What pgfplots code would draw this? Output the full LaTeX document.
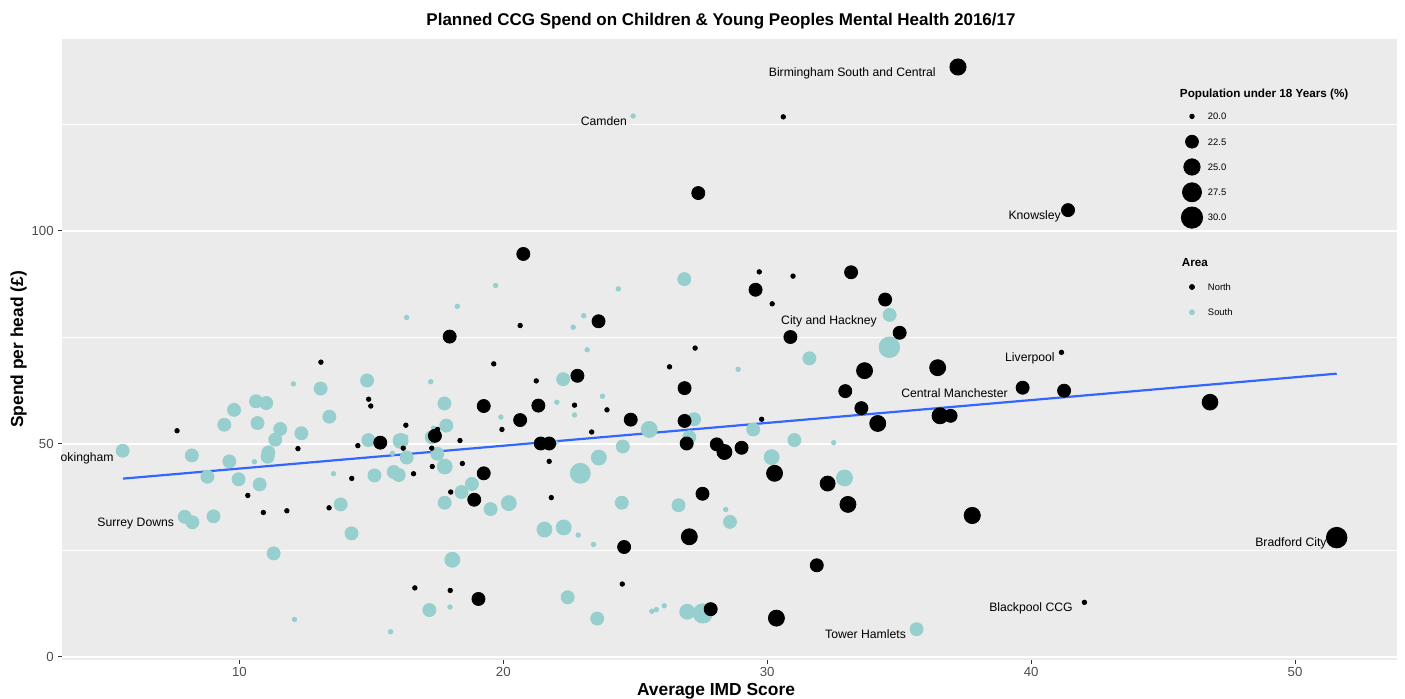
\documentclass[border=0pt]{standalone}
\usepackage{fontspec}
\setmainfont{Liberation Sans}
\usepackage{pgfplots}
\usepackage{pgfplotstable}
\pgfplotsset{compat=1.18}
\definecolor{panelbg}{HTML}{EBEBEB}
\definecolor{southc}{HTML}{96CFCD}
\definecolor{smoothc}{HTML}{3366FF}
\definecolor{ticklab}{HTML}{4D4D4D}
\definecolor{tickc}{HTML}{333333}

\pgfplotstableread{
x y pop
13.09 69.2 20.0
7.64 53.1 20.0
12.22 48.9 20.0
10.32 37.9 20.0
10.91 33.9 20.0
11.80 34.3 20.0
13.40 35.0 20.0
20.64 77.8 20.0
17.97 75.2 22.6
19.64 68.8 20.0
21.25 64.8 20.0
22.81 66.0 22.6
14.90 60.5 20.0
14.98 58.9 20.0
19.26 58.9 22.6
21.33 59.0 22.6
22.70 59.1 20.0
20.64 55.6 22.6
16.31 54.4 20.0
19.95 53.4 20.0
14.49 49.6 20.0
15.34 50.3 22.6
16.21 49.0 20.0
17.41 51.9 22.6
17.51 53.4 20.0
17.29 49.0 20.0
18.36 50.8 20.0
17.31 44.7 20.0
18.45 45.4 20.0
16.60 43.0 20.0
14.26 41.9 20.0
19.26 43.1 22.6
21.42 50.1 22.6
21.74 50.1 22.6
21.74 45.9 20.0
18.01 38.7 20.0
18.90 36.9 22.6
21.82 37.4 20.0
16.65 16.2 20.0
17.99 15.6 20.0
19.06 13.6 22.6
37.23 138.5 24.9
30.61 126.8 20.0
27.39 108.9 22.6
20.76 94.6 22.6
29.70 90.4 20.0
30.98 89.4 20.0
33.18 90.3 22.6
41.40 104.9 22.6
29.56 86.2 22.6
30.19 82.9 20.0
23.61 78.8 22.6
30.88 75.1 22.6
27.27 72.5 20.0
26.30 68.1 20.0
26.87 63.1 22.6
23.93 58.0 20.0
24.83 55.7 22.6
26.87 55.4 22.6
29.79 55.8 20.0
23.35 52.8 20.0
26.95 50.1 22.6
28.09 49.9 22.6
28.38 48.1 23.9
29.03 49.1 22.6
30.28 43.1 24.7
27.55 38.3 22.6
27.05 28.2 24.7
24.58 25.8 22.6
24.51 17.1 20.0
31.88 21.5 22.6
27.86 11.2 22.6
30.35 9.1 24.7
34.47 83.9 22.6
35.02 76.1 22.6
33.69 67.2 24.7
36.46 67.9 24.7
32.96 62.4 22.6
39.68 63.2 22.6
33.57 58.4 22.6
34.19 54.8 24.7
36.55 56.6 24.7
36.95 56.6 22.6
32.29 40.7 23.9
33.06 35.8 24.7
37.77 33.2 24.9
41.15 71.5 20.0
41.25 62.5 22.6
46.78 59.8 24.5
51.58 28.0 29.2
42.02 12.8 20.0
}\northdata

\pgfplotstableread{
x y pop
12.05 64.1 20.0
13.08 63.0 22.6
10.63 60.0 22.6
11.02 59.6 22.6
9.80 58.0 22.6
13.41 56.4 22.6
9.43 54.5 22.6
10.69 54.9 22.6
11.55 53.5 22.6
12.35 52.5 22.6
11.36 51.0 22.6
5.58 48.4 22.6
8.20 47.3 22.6
9.62 45.9 22.6
11.10 48.0 22.6
11.07 47.0 22.6
10.57 45.8 20.0
8.79 42.3 22.6
9.97 41.7 22.6
10.77 40.5 22.6
13.57 43.0 20.0
13.84 35.8 22.6
7.93 32.9 22.6
8.22 31.6 22.6
9.02 33.0 22.6
11.30 24.3 22.6
12.09 8.8 20.0
19.71 87.2 20.0
18.26 82.3 20.0
16.34 79.7 20.0
22.65 77.4 20.0
14.84 64.9 22.6
17.25 64.6 20.0
22.27 65.2 22.6
17.77 59.5 22.6
22.03 59.8 20.0
22.70 56.8 20.0
19.91 56.3 20.0
17.84 54.3 22.6
14.89 50.9 22.6
16.11 50.7 23.9
15.95 51.6 20.0
16.30 51.6 20.0
17.29 51.6 22.6
17.36 53.7 20.0
15.80 47.8 20.0
16.34 46.8 22.6
17.50 47.7 22.6
17.78 44.7 23.9
15.12 42.6 22.6
15.85 43.4 22.6
16.04 42.7 22.6
22.92 43.1 28.5
21.98 50.3 20.0
14.25 29.0 22.6
18.42 38.7 22.6
18.81 40.6 22.6
17.78 36.2 22.6
19.52 34.7 22.6
20.21 36.1 23.9
21.56 29.9 23.9
22.29 30.4 23.9
22.84 28.6 20.0
18.07 22.8 23.9
17.20 11.0 22.6
17.98 11.7 20.0
22.44 14.0 22.6
15.73 5.9 20.0
24.92 127.0 20.0
26.86 88.7 22.6
24.36 86.4 20.0
23.05 80.1 20.0
31.60 70.1 22.6
23.18 72.1 20.0
28.90 67.5 20.0
23.76 61.2 20.0
27.23 55.8 22.6
25.53 53.4 24.7
29.47 53.4 22.6
27.05 51.6 22.6
24.53 49.4 22.6
23.62 46.8 23.9
30.17 46.9 23.9
31.03 50.9 22.6
24.49 36.2 22.6
26.64 35.6 22.6
28.43 34.6 20.0
28.59 31.7 22.6
23.42 26.4 20.0
23.56 9.0 22.6
25.63 10.7 20.0
25.80 11.1 20.0
26.10 12.0 20.0
26.97 10.6 23.9
27.56 10.2 27.8
34.64 80.3 22.6
34.63 72.7 29.2
32.52 50.3 20.0
32.93 42.0 24.7
35.66 6.5 22.6
}\southdata

\pgfplotsset{
  sized/.style={only marks, mark=*, scatter,
    mark options={draw=none},
    visualization depends on={(4.5+17.3*sqrt(max(\thisrow{pop}-20,0)/10.6))/4 \as \msz},
    scatter/@pre marker code/.code={\scope[mark size=\msz pt]},
    scatter/@post marker code/.code={\endscope}},
}
\newcommand\lbl{\fontsize{6.1}{7}\selectfont}
\newcommand\legt{\bfseries\fontsize{5.85}{6}\selectfont}

\begin{document}
\begin{tikzpicture}
\path[use as bounding box] (0,0) rectangle (702.5pt,349.5pt);
\begin{axis}[
  at={(31pt,19.5pt)}, anchor=south west,
  width=667.7pt, height=310.55pt, scale only axis,
  xmin=3.28, xmax=53.88, ymin=-0.73, ymax=145.1,
  axis background/.style={fill=panelbg},
  axis line style={draw=none},
  tick pos=left,
  xtick={10,20,30,40,50}, ytick={0,50,100}, minor ytick={25,75,125},
  ymajorgrids, yminorgrids,
  major grid style={draw=white, line width=0.7pt},
  minor grid style={draw=white, line width=0.35pt},
  major tick style={draw=tickc, line width=0.5pt},
  major tick length=2pt, minor tick length=0pt,
  tick align=outside,
  /pgf/number format/assume math mode=true,
  ticklabel style={font=\fontsize{6.6}{7}\selectfont, text=ticklab},
  xticklabel style={anchor=north, inner sep=0pt, yshift=-1.5pt},
  yticklabel style={anchor=east, inner sep=0pt, xshift=-2pt},
  legend image code/.code={\draw[#1] plot coordinates {(0pt,1.7pt)};},
  legend style={at={(0.8382,0.9274)}, anchor=north west, draw=none, fill=none,
    inner sep=0pt, outer sep=0pt, row sep=0pt, column sep=2.67pt,
    nodes={inner sep=0pt}, font=\fontsize{4.7}{5}\selectfont},
]
\addplot[sized, southc, forget plot] table[x=x,y=y] {\southdata};
\addplot[sized, black, forget plot] table[x=x,y=y] {\northdata};
\addplot[smoothc, line width=1.1pt, no marks, forget plot] coordinates {(5.59,41.85) (51.58,66.5)};

\addlegendimage{empty legend}
\addlegendentry[anchor=base west, text height=6.7pt, text depth=3.2pt, font=\legt]{\hspace*{-14pt}Population under 18 Years (\%)}
\addlegendimage{black, mark=*, mark size=1.125pt, mark options={draw=none}}
\addlegendentry[anchor=base west, text height=8pt, text depth=4.65pt]{20.0}
\addlegendimage{black, mark=*, mark size=3.225pt, mark options={draw=none}}
\addlegendentry[anchor=base west, text height=8pt, text depth=4.65pt]{22.5}
\addlegendimage{black, mark=*, mark size=4.095pt, mark options={draw=none}}
\addlegendentry[anchor=base west, text height=8pt, text depth=4.65pt]{25.0}
\addlegendimage{black, mark=*, mark size=4.76pt, mark options={draw=none}}
\addlegendentry[anchor=base west, text height=8pt, text depth=4.65pt]{27.5}
\addlegendimage{black, mark=*, mark size=5.33pt, mark options={draw=none}}
\addlegendentry[anchor=base west, text height=8pt, text depth=4.65pt]{30.0}
\addlegendimage{empty legend}
\addlegendentry[anchor=base west, text height=10.35pt, text depth=0pt]{}
\addlegendimage{empty legend}
\addlegendentry[anchor=base west, text height=8pt, text depth=3.7pt, font=\legt]{\hspace*{-14pt}Area}
\addlegendimage{black, mark=*, mark size=1.25pt, mark options={draw=none}}
\addlegendentry[anchor=base west, text height=8pt, text depth=4.65pt]{North}
\addlegendimage{southc, mark=*, mark size=1.25pt, mark options={draw=none}}
\addlegendentry[anchor=base west, text height=8pt, text depth=4.65pt]{South}

\node[anchor=base east, font=\lbl, inner sep=0pt] at (axis cs:36.40,136.3) {Birmingham South and Central};
\node[anchor=base east, font=\lbl, inner sep=0pt] at (axis cs:24.70,124.8) {Camden};
\node[anchor=base east, font=\lbl, inner sep=0pt] at (axis cs:41.14,102.8) {Knowsley};
\node[anchor=base east, font=\lbl, inner sep=0pt] at (axis cs:34.17,78.1) {City and Hackney};
\node[anchor=base east, font=\lbl, inner sep=0pt] at (axis cs:40.91,69.4) {Liverpool};
\node[anchor=base east, font=\lbl, inner sep=0pt] at (axis cs:39.13,61.0) {Central Manchester};
\node[anchor=base east, font=\lbl, inner sep=0pt] at (axis cs:5.25,45.9) {Wokingham};
\node[anchor=base east, font=\lbl, inner sep=0pt] at (axis cs:7.54,30.7) {Surrey Downs};
\node[anchor=base east, font=\lbl, inner sep=0pt] at (axis cs:51.21,25.8) {Bradford City};
\node[anchor=base east, font=\lbl, inner sep=0pt] at (axis cs:41.59,10.7) {Blackpool CCG};
\node[anchor=base east, font=\lbl, inner sep=0pt] at (axis cs:35.27,4.4) {Tower Hamlets};
\end{axis}
\node[anchor=base, font=\bfseries\fontsize{8.5}{10}\selectfont, inner sep=0pt] at (360.5pt,336.95pt) {Planned CCG Spend on Children \& Young Peoples Mental Health 2016/17};
\node[anchor=base, font=\bfseries\fontsize{8.7}{10}\selectfont, inner sep=0pt] at (358pt,1.9pt) {Average IMD Score};
\node[rotate=90, anchor=base, font=\bfseries\fontsize{8.7}{10}\selectfont, inner sep=0pt] at (11.6pt,174.75pt) {Spend per head (£)};
\end{tikzpicture}
\end{document}
